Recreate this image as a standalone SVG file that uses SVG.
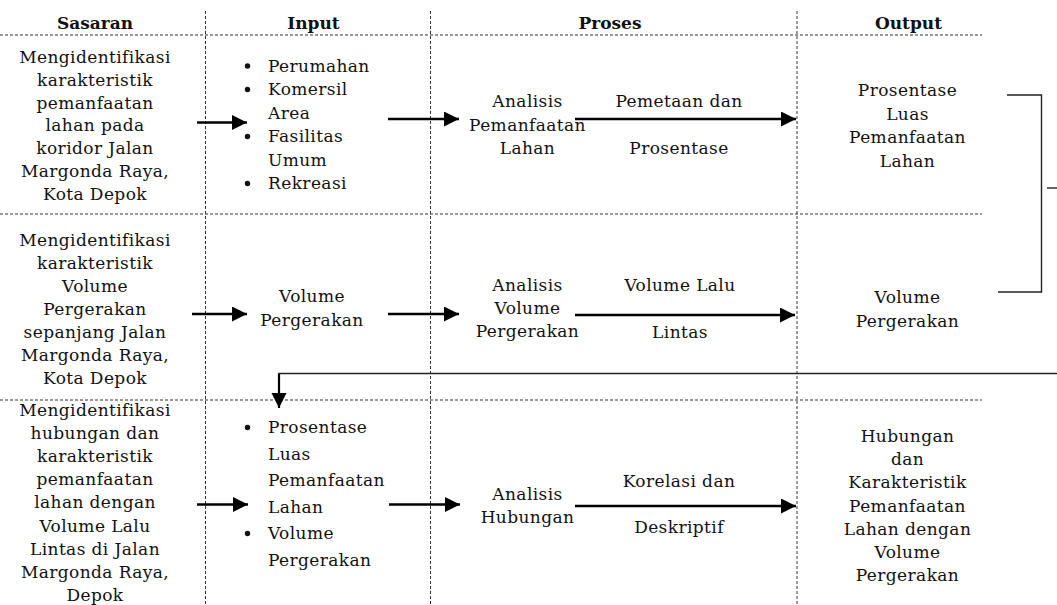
<svg xmlns="http://www.w3.org/2000/svg" width="1057" height="605" viewBox="0 0 1057 605">
<style>
  text { font-family: "DejaVu Serif", "Liberation Serif", serif; font-size: 17px; letter-spacing: 0.4px; fill: #111; }
  .c { text-anchor: middle; }
  .h { font-weight: bold; font-size: 17px; letter-spacing: 0; text-anchor: middle; }
  .grid { stroke: #333; stroke-width: 1; stroke-dasharray: 3 2; fill: none; }
  .arr { stroke: #000; stroke-width: 2.6; fill: none; marker-end: url(#ah); }
  .thin { stroke: #222; stroke-width: 1.4; fill: none; }
  .dot { fill: #111; }
</style>
<defs>
  <marker id="ah" markerUnits="userSpaceOnUse" markerWidth="16" markerHeight="16" refX="15" refY="7.5" orient="auto">
    <path d="M0,0 L15,7.5 L0,15 Z" fill="#000"/>
  </marker>
</defs>
<rect width="1057" height="605" fill="#fff"/>

<g id="grid">
  <line class="grid" x1="205.5" y1="11" x2="205.5" y2="605"/>
  <line class="grid" x1="430.5" y1="11" x2="430.5" y2="605"/>
  <line class="grid" x1="797" y1="11" x2="797" y2="605"/>
  <line class="grid" x1="0" y1="35" x2="982" y2="35"/>
  <line class="grid" x1="0" y1="214" x2="982" y2="214"/>
  <line class="grid" x1="0" y1="400" x2="982" y2="400"/>
</g>

<g id="headers">
  <text class="h" x="95" y="29">Sasaran</text>
  <text class="h" x="313.5" y="29">Input</text>
  <text class="h" x="610" y="29">Proses</text>
  <text class="h" x="908.5" y="29">Output</text>
</g>

<g id="sasaran1">
  <text class="c" x="95" y="63">Mengidentifikasi</text>
  <text class="c" x="95" y="85.8">karakteristik</text>
  <text class="c" x="95" y="108.6">pemanfaatan</text>
  <text class="c" x="95" y="131.4">lahan pada</text>
  <text class="c" x="95" y="154.2">koridor Jalan</text>
  <text class="c" x="95" y="177">Margonda Raya,</text>
  <text class="c" x="95" y="199.8">Kota Depok</text>
</g>

<g id="input1">
  <circle class="dot" cx="247.5" cy="66" r="2.7"/>
  <circle class="dot" cx="247.5" cy="89.5" r="2.7"/>
  <circle class="dot" cx="247.5" cy="136.5" r="2.7"/>
  <circle class="dot" cx="247.5" cy="183.5" r="2.7"/>
  <text x="268" y="71.5">Perumahan</text>
  <text x="268" y="95">Komersil</text>
  <text x="268" y="118.5">Area</text>
  <text x="268" y="142">Fasilitas</text>
  <text x="268" y="165.5">Umum</text>
  <text x="268" y="189">Rekreasi</text>
</g>

<g id="proses1">
  <text class="c" x="527.5" y="107">Analisis</text>
  <text class="c" x="527.5" y="130.5">Pemanfaatan</text>
  <text class="c" x="527.5" y="154">Lahan</text>
</g>

<g id="label1">
  <text class="c" x="679" y="107">Pemetaan dan</text>
  <text class="c" x="679" y="154">Prosentase</text>
</g>

<g id="output1">
  <text class="c" x="907.5" y="96">Prosentase</text>
  <text class="c" x="907.5" y="119.5">Luas</text>
  <text class="c" x="907.5" y="143">Pemanfaatan</text>
  <text class="c" x="907.5" y="166.5">Lahan</text>
</g>

<g id="sasaran2">
  <text class="c" x="95" y="245.5">Mengidentifikasi</text>
  <text class="c" x="95" y="268.5">karakteristik</text>
  <text class="c" x="95" y="291.5">Volume</text>
  <text class="c" x="95" y="314.5">Pergerakan</text>
  <text class="c" x="95" y="337.5">sepanjang Jalan</text>
  <text class="c" x="95" y="360.5">Margonda Raya,</text>
  <text class="c" x="95" y="383.5">Kota Depok</text>
</g>

<g id="input2">
  <text class="c" x="312" y="302">Volume</text>
  <text class="c" x="312" y="325.5">Pergerakan</text>
</g>

<g id="proses2">
  <text class="c" x="527.5" y="291">Analisis</text>
  <text class="c" x="527.5" y="314">Volume</text>
  <text class="c" x="527.5" y="337">Pergerakan</text>
</g>

<g id="label2">
  <text class="c" x="680" y="291">Volume Lalu</text>
  <text class="c" x="680" y="338">Lintas</text>
</g>

<g id="output2">
  <text class="c" x="907.5" y="303">Volume</text>
  <text class="c" x="907.5" y="326.5">Pergerakan</text>
</g>

<g id="sasaran3">
  <text class="c" x="95" y="416">Mengidentifikasi</text>
  <text class="c" x="95" y="439.1">hubungan dan</text>
  <text class="c" x="95" y="462.2">karakteristik</text>
  <text class="c" x="95" y="485.3">pemanfaatan</text>
  <text class="c" x="95" y="508.4">lahan dengan</text>
  <text class="c" x="95" y="531.5">Volume Lalu</text>
  <text class="c" x="95" y="554.6">Lintas di Jalan</text>
  <text class="c" x="95" y="577.7">Margonda Raya,</text>
  <text class="c" x="95" y="600.8">Depok</text>
</g>

<g id="input3">
  <circle class="dot" cx="247.5" cy="427.5" r="2.7"/>
  <circle class="dot" cx="247.5" cy="533.5" r="2.7"/>
  <text x="268" y="433">Prosentase</text>
  <text x="268" y="459.5">Luas</text>
  <text x="268" y="486">Pemanfaatan</text>
  <text x="268" y="512.5">Lahan</text>
  <text x="268" y="539">Volume</text>
  <text x="268" y="565.5">Pergerakan</text>
</g>

<g id="proses3">
  <text class="c" x="527.5" y="500">Analisis</text>
  <text class="c" x="527.5" y="523">Hubungan</text>
</g>

<g id="label3">
  <text class="c" x="679" y="487">Korelasi dan</text>
  <text class="c" x="679" y="533">Deskriptif</text>
</g>

<g id="output3">
  <text class="c" x="907.5" y="442">Hubungan</text>
  <text class="c" x="907.5" y="465">dan</text>
  <text class="c" x="907.5" y="488">Karakteristik</text>
  <text class="c" x="907.5" y="511.5">Pemanfaatan</text>
  <text class="c" x="907.5" y="534.5">Lahan dengan</text>
  <text class="c" x="907.5" y="557.5">Volume</text>
  <text class="c" x="907.5" y="580.5">Pergerakan</text>
</g>

<g id="connectors">
  <line class="arr" x1="197" y1="122.5" x2="247" y2="122.5"/>
  <line class="arr" x1="388" y1="119" x2="459" y2="119"/>
  <line class="arr" x1="575" y1="119" x2="796" y2="119"/>
  <line class="arr" x1="192" y1="314" x2="247" y2="314"/>
  <line class="arr" x1="388" y1="314" x2="459" y2="314"/>
  <line class="arr" x1="575" y1="315" x2="795" y2="315"/>
  <line class="arr" x1="197" y1="504.5" x2="248" y2="504.5"/>
  <line class="arr" x1="389" y1="504.5" x2="460" y2="504.5"/>
  <line class="arr" x1="575" y1="506" x2="796" y2="506"/>
  <polyline class="thin" points="1007,95 1041.5,95 1041.5,292 998,292"/>
  <line class="thin" x1="1047" y1="188" x2="1057" y2="188"/>
  <polyline class="thin" points="1057,373.5 279,373.5 279,394"/>
  <line stroke="#000" stroke-width="2.2" x1="279" y1="373.5" x2="279" y2="408" marker-end="url(#ah)"/>
</g>
</svg>
